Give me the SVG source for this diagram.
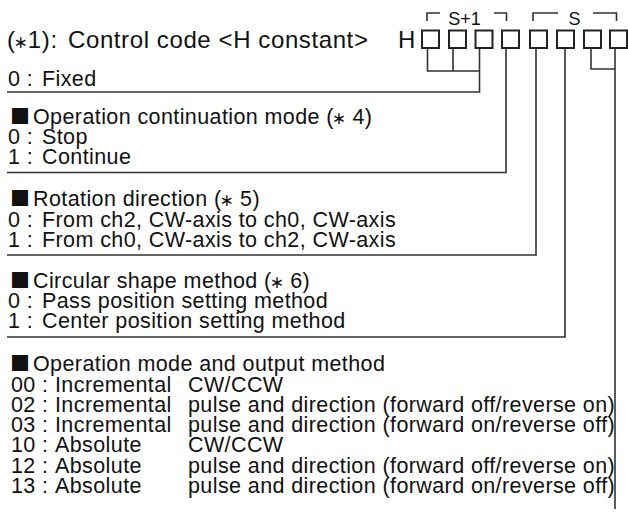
<svg xmlns="http://www.w3.org/2000/svg" width="628" height="516" viewBox="0 0 628 516">
<style>
.t{font-family:"Liberation Sans",Arial,sans-serif;font-size:21.5px;letter-spacing:0.4px;fill:#111}
.title{font-size:24px;letter-spacing:0.6px}
.lbl{font-size:18px;letter-spacing:0;text-anchor:middle}
.sq{font-family:"Noto Sans CJK JP",sans-serif;font-size:20px;letter-spacing:0}
.ast{font-family:"DejaVu Sans",sans-serif;font-size:17px;letter-spacing:0}
.ln{stroke:#333;stroke-width:1.6;fill:none}
.box{fill:#fff;stroke:#222;stroke-width:2}
</style>
<rect width="628" height="516" fill="#fff"/>
<g id="title">
<text class="t title" x="7" y="48">(<tspan class="ast" font-size="18" dx="-2">∗</tspan><tspan>1):</tspan><tspan x="68">Control code &lt;H constant&gt;</tspan></text>
</g>
<g id="code">
<text class="t title" x="398" y="48" letter-spacing="0">H</text>
<rect class="box" x="422" y="30.5" width="17" height="17.5"/>
<rect class="box" x="449" y="30.5" width="17" height="17.5"/>
<rect class="box" x="475.5" y="30.5" width="17" height="17.5"/>
<rect class="box" x="502" y="30.5" width="17" height="17.5"/>
<rect class="box" x="530" y="30.5" width="17" height="17.5"/>
<rect class="box" x="557" y="30.5" width="17" height="17.5"/>
<rect class="box" x="584" y="30.5" width="17" height="17.5"/>
<rect class="box" x="610" y="30.5" width="17" height="17.5"/>
<path class="ln" d="M427 21V13H440M494 13H506.5V21M533 21V13H558M593 13H616.5V21"/>
<text class="t lbl" x="464.5" y="25">S+1</text>
<text class="t lbl" x="574.5" y="25">S</text>
</g>
<g id="connectors">
<path class="ln" d="M427.5 49V71H479.5M453 49V71M479.5 49V92H7"/>
<path class="ln" d="M506 49V172.5H7"/>
<path class="ln" d="M536 49V255H7"/>
<path class="ln" d="M565 49V337H7"/>
<path class="ln" d="M591 49V69H615M615 49V509"/>
</g>
<g id="sec-fixed">
<text class="t" x="8" y="86">0 :<tspan x="42">Fixed</tspan></text>
</g>
<g id="sec-continuation">
<text class="t" x="10" y="123.5"><tspan class="sq">■</tspan><tspan x="33">Operation continuation mode (</tspan><tspan class="ast" dx="-2">∗</tspan><tspan> 4)</tspan></text>
<text class="t" x="8" y="144">0 :<tspan x="42">Stop</tspan></text>
<text class="t" x="8" y="164">1 :<tspan x="42">Continue</tspan></text>
</g>
<g id="sec-rotation">
<text class="t" x="10" y="206"><tspan class="sq">■</tspan><tspan x="33">Rotation direction (</tspan><tspan class="ast" dx="-2">∗</tspan><tspan> 5)</tspan></text>
<text class="t" x="8" y="227">0 :<tspan x="42">From ch2, CW-axis to ch0, CW-axis</tspan></text>
<text class="t" x="8" y="247">1 :<tspan x="42">From ch0, CW-axis to ch2, CW-axis</tspan></text>
</g>
<g id="sec-circular">
<text class="t" x="10" y="287.5"><tspan class="sq">■</tspan><tspan x="33">Circular shape method (</tspan><tspan class="ast" dx="-2">∗</tspan><tspan> 6)</tspan></text>
<text class="t" x="8" y="308">0 :<tspan x="42">Pass position setting method</tspan></text>
<text class="t" x="8" y="328">1 :<tspan x="42">Center position setting method</tspan></text>
</g>
<g id="sec-opmode">
<text class="t" x="10" y="370.5"><tspan class="sq">■</tspan><tspan x="33">Operation mode and output method</tspan></text>
<text class="t" x="11" y="391.5">00 :<tspan x="55">Incremental</tspan><tspan x="188">CW/CCW</tspan></text>
<text class="t" x="11" y="411.8">02 :<tspan x="55">Incremental</tspan><tspan x="188">pulse and direction (forward off/reverse on)</tspan></text>
<text class="t" x="11" y="432">03 :<tspan x="55">Incremental</tspan><tspan x="188">pulse and direction (forward on/reverse off)</tspan></text>
<text class="t" x="11" y="452.3">10 :<tspan x="55">Absolute</tspan><tspan x="188">CW/CCW</tspan></text>
<text class="t" x="11" y="472.6">12 :<tspan x="55">Absolute</tspan><tspan x="188">pulse and direction (forward off/reverse on)</tspan></text>
<text class="t" x="11" y="493">13 :<tspan x="55">Absolute</tspan><tspan x="188">pulse and direction (forward on/reverse off)</tspan></text>
</g>
</svg>
